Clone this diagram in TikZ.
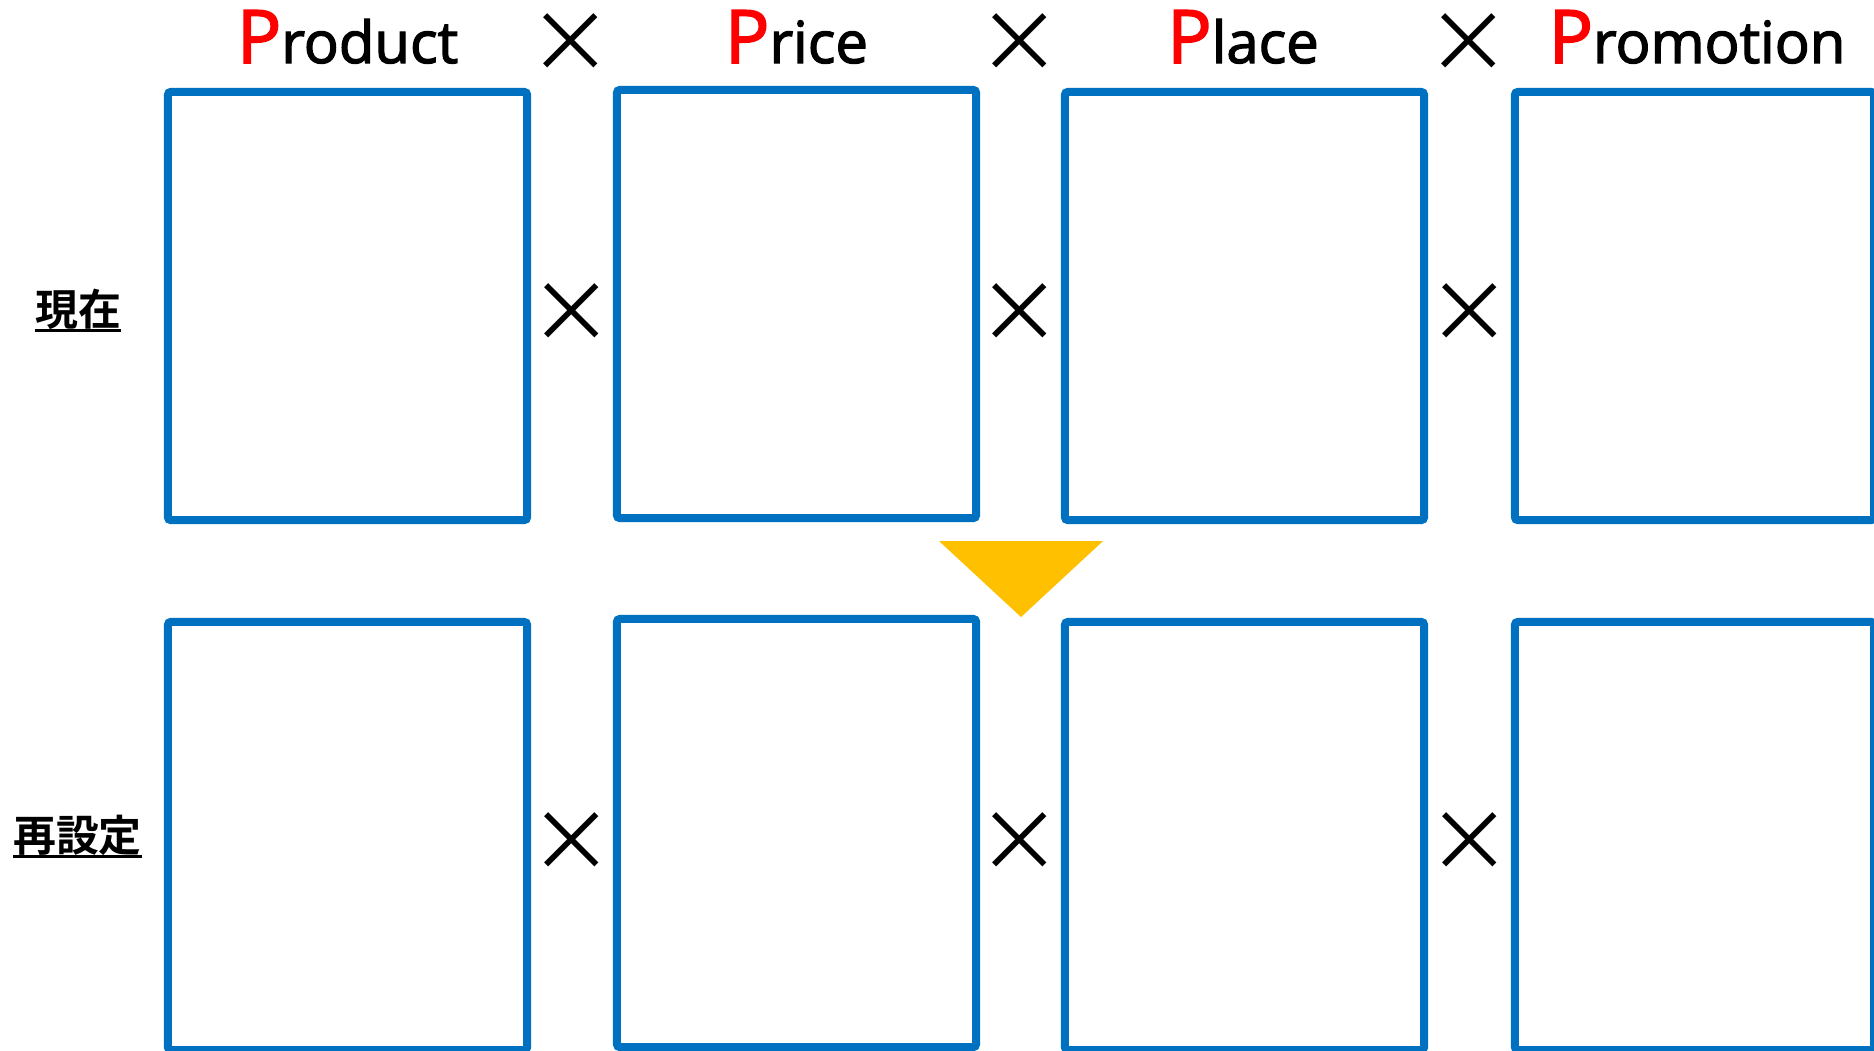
\documentclass[tikz,border=0pt]{standalone}
\usepackage{fontspec}
\setmainfont{Open Sans}
\newfontfamily\headfont[FakeBold=2.2]{Open Sans}
\newfontfamily\jpfont[BoldFont={Noto Sans CJK JP Bold}]{Noto Sans CJK JP}
\usepackage{xcolor}
\usetikzlibrary{positioning}
\definecolor{boxblue}{RGB}{0,112,192}
\definecolor{gold}{RGB}{255,192,0}
\definecolor{pred}{RGB}{255,0,0}
\newcommand{\bigp}{{\color{pred}\fontsize{21}{21}\selectfont P}}
\newcommand{\ulabel}[1]{\setbox0=\hbox{#1}\copy0\llap{\rule[-0.07cm]{\wd0}{0.03cm}}}

\begin{document}
\begin{tikzpicture}[x=0.01cm,y=-0.01cm]
\tikzset{pbox/.style={draw=boxblue,line width=0.08cm,rounded corners=0.03cm,minimum width=3.59cm,minimum height=4.28cm,inner sep=0pt}}
\tikzset{head/.style={anchor=base,font=\headfont\fontsize{16.5}{16.5}\selectfont,inner sep=0pt}}
\tikzset{times/.style={font=\jpfont\fontsize{24}{24}\selectfont,inner sep=0pt}}
\tikzset{rowlabel/.style={anchor=base,font=\jpfont\bfseries\fontsize{12.2}{12.2}\selectfont,inner sep=0pt}}
\useasboundingbox (0,0) rectangle (1874,1050);
\clip (0,0) rectangle (1874,1050);
% current row
\node[pbox] (now1) at (347.5,306) {};
\node[pbox] (now2) at (796.5,304) {};
\node[pbox] (now3) at (1244.5,306) {};
\node[pbox] (now4) at (1694.5,306) {};
% reset row
\node[pbox] (new1) at (347.5,836) {};
\node[pbox] (new2) at (796.5,833) {};
\node[pbox] (new3) at (1244.5,836) {};
\node[pbox] (new4) at (1694.5,836) {};
% 4P headings
\node[head] (product) at (347.5,63) {\bigp roduct};
\node[head] (price) at (796.5,63) {\bigp rice};
\node[head] (place) at (1243,63) {\bigp lace};
\node[head] (promotion) at (1697,63) {\bigp romotion};
\node[times] (th1) at (571,43) {×};
\node[times] (th2) at (1019.5,43) {×};
\node[times] (th3) at (1469,43) {×};
\node[times] (tn1) at (572,313) {×};
\node[times] (tn2) at (1020,313) {×};
\node[times] (tn3) at (1469.5,313) {×};
\node[times] (tr1) at (572,842.5) {×};
\node[times] (tr2) at (1020,842.5) {×};
\node[times] (tr3) at (1469.5,842.5) {×};
% row labels
\node[rowlabel] (nowlabel) at (78,325) {\ulabel{現在}};
\node[rowlabel] (newlabel) at (77.5,851) {\ulabel{再設定}};
\fill[gold] (939,541) -- (1103,541) -- (1021,617) -- cycle;
\end{tikzpicture}
\end{document}
